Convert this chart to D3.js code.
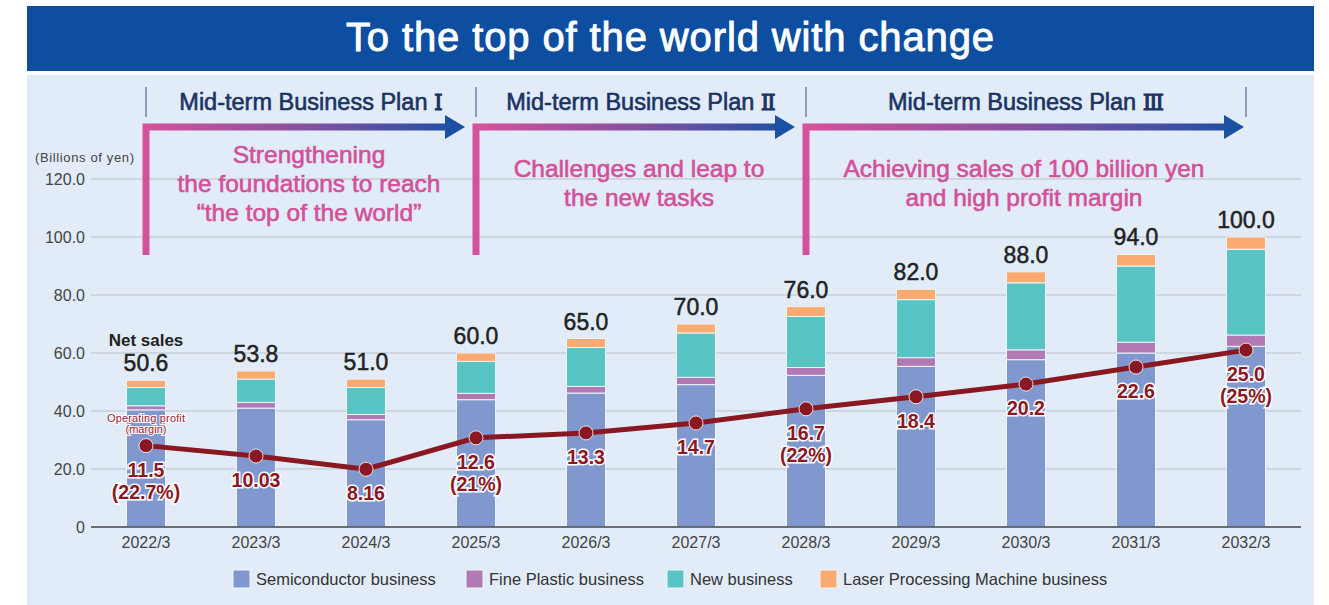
<!DOCTYPE html>
<html>
<head>
    <title>To the top of the world with change</title>
    <meta charset="utf-8">
    <script src="https://cdn.jsdelivr.net/npm/d3@7"></script>
    <style>
        body { margin: 0; background: #fff; }
        text { font-family: "Liberation Sans", Arial, sans-serif; }
    </style>
</head>
<body>
    <div id="chart"></div>

    <script>
        const categories = ["2022/3", "2023/3", "2024/3", "2025/3", "2026/3", "2027/3", "2028/3", "2029/3", "2030/3", "2031/3", "2032/3"];
        const semiconductor = [40.4, 41.0, 37.0, 43.9, 46.2, 49.1, 52.3, 55.4, 57.7, 60.0, 62.3];
        const finePlastic = [1.4, 2.0, 1.8, 2.2, 2.3, 2.5, 2.7, 3.0, 3.4, 3.7, 3.9];
        const newBusiness = [6.3, 8.0, 9.3, 11.0, 13.4, 15.3, 17.6, 20.0, 23.1, 26.3, 29.6];
        const laser = [2.5, 2.8, 2.9, 2.9, 3.1, 3.1, 3.4, 3.6, 3.8, 4.0, 4.2];
        const netSales = [50.6, 53.8, 51.0, 60.0, 65.0, 70.0, 76.0, 82.0, 88.0, 94.0, 100.0];
        const operatingProfit = [11.5, 10.03, 8.16, 12.6, 13.3, 14.7, 16.7, 18.4, 20.2, 22.6, 25.0];
        const profitLabels = ["11.5", "10.03", "8.16", "12.6", "13.3", "14.7", "16.7", "18.4", "20.2", "22.6", "25.0"];
        const margins = ["22.7%", null, null, "21%", null, null, "22%", null, null, null, "25%"];
        const yTicks = [0, 20, 40, 60, 80, 100, 120];

        const seriesNames = ["Semiconductor business", "Fine Plastic business", "New business", "Laser Processing Machine business"];
        const seriesColors = ["#8198cf", "#b27ab4", "#58c4c4", "#fbab6f"];

        const planNames = ["Mid-term Business Plan", "Mid-term Business Plan", "Mid-term Business Plan"];
        const planNumerals = ["\u2160", "\u2161", "\u2162"];
        const planStart = ["2022/3", "2025/3", "2028/3"];
        const planEnd = ["2025/3", "2028/3", "2032/3"];
        const planTexts = [
            ["Strengthening", "the foundations to reach", "\u201cthe top of the world\u201d"],
            ["Challenges and leap to", "the new tasks"],
            ["Achieving sales of 100 billion yen", "and high profit margin"]
        ];

        const W = 1329, H = 605;
        const svg = d3.select("#chart").append("svg")
            .attr("width", W)
            .attr("height", H);

        // title bar + panel
        svg.append("rect").attr("x", 27).attr("y", 6).attr("width", 1287).attr("height", 65).attr("fill", "#0d4ea1");
        svg.append("text")
            .attr("x", 670).attr("y", 51)
            .attr("text-anchor", "middle")
            .attr("fill", "#fff")
            .attr("stroke", "#fff").attr("stroke-width", 0.9)
            .attr("font-size", 40)
            .attr("textLength", 648)
            .text("To the top of the world with change");
        svg.append("rect").attr("x", 27).attr("y", 75).attr("width", 1287).attr("height", 530).attr("fill", "#e1ecf8");

        const x = d3.scaleBand()
            .domain(categories)
            .range([91, 1301])
            .paddingInner(0.645)
            .paddingOuter(0.3225);

        const y = d3.scaleLinear().domain([0, 120]).range([527, 179]);
        // operating profit drawn on its own scale
        const y2 = d3.scaleLinear().domain([0, 120 / 2.44]).range([527, 179]);

        const cx = c => x(c) + x.bandwidth() / 2;

        // grid
        svg.append("g")
            .selectAll("line")
            .data(yTicks.filter(d => d > 0))
            .join("line")
            .attr("x1", 91).attr("x2", 1301)
            .attr("y1", d => y(d)).attr("y2", d => y(d))
            .attr("stroke", "#bcc0c6")
            .attr("stroke-width", 1.2);

        const yAxis = svg.append("g")
            .attr("transform", "translate(91,0)")
            .call(d3.axisLeft(y).tickValues(yTicks).tickSize(0).tickPadding(6)
                .tickFormat(d => d === 0 ? "0" : d.toFixed(1)));
        yAxis.select(".domain").remove();
        yAxis.selectAll("text").attr("font-size", 16).attr("fill", "#444").attr("font-family", "Liberation Sans, Arial, sans-serif");

        svg.append("text")
            .attr("x", 35).attr("y", 162)
            .attr("font-size", 13).attr("fill", "#444")
            .attr("textLength", 99)
            .text("(Billions of yen)");

        // plan headers and arrows
        const defs = svg.append("defs");
        const planG = svg.append("g");
        planNames.forEach((name, i) => {
            const x0 = cx(planStart[i]);
            const x1 = cx(planEnd[i]);
            const tip = i < 2 ? x1 - 11 : x1 - 2;
            const gid = "grad" + i;
            const grad = defs.append("linearGradient")
                .attr("id", gid)
                .attr("gradientUnits", "userSpaceOnUse")
                .attr("x1", x0).attr("x2", tip).attr("y1", 0).attr("y2", 0);
            grad.append("stop").attr("offset", "0%").attr("stop-color", "#d4529b");
            grad.append("stop").attr("offset", "55%").attr("stop-color", "#7b52a0");
            grad.append("stop").attr("offset", "100%").attr("stop-color", "#1b50a2");

            const head = planG.append("text")
                .attr("x", (x0 + x1) / 2).attr("y", 110)
                .attr("text-anchor", "middle")
                .attr("font-size", 23.5)
                .attr("fill", "#1b3364")
                .attr("stroke", "#1b3364").attr("stroke-width", 0.6);
            head.append("tspan").text(name + " ");
            head.append("tspan")
                .attr("font-family", "DejaVu Serif, Liberation Serif, serif")
                .attr("font-size", 22)
                .attr("stroke-width", 1)
                .text(planNumerals[i]);

            planG.append("path")
                .attr("d", `M${x0},255V127H${tip - 18}`)
                .attr("fill", "none")
                .attr("stroke", `url(#${gid})`)
                .attr("stroke-width", 7);
            planG.append("path")
                .attr("d", `M${tip - 20},115L${tip},127L${tip - 20},139Z`)
                .attr("fill", "#1b50a2");

            planTexts[i].forEach((t, j) => {
                planG.append("text")
                    .attr("x", (x0 + x1) / 2 - 2)
                    .attr("y", (i === 0 ? 163 : 177) + j * 29)
                    .attr("text-anchor", "middle")
                    .attr("font-size", 24.5)
                    .attr("fill", "#d3509a")
                    .attr("stroke", "#d3509a").attr("stroke-width", 0.6)
                    .text(t);
            });
        });
        // separators
        const sepX = planStart.concat([planEnd[2]]).map(cx);
        planG.selectAll("line.sep")
            .data(sepX)
            .join("line")
            .attr("class", "sep")
            .attr("x1", d => d).attr("x2", d => d)
            .attr("y1", 87).attr("y2", 117)
            .attr("stroke", "#5b7299")
            .attr("stroke-width", 1.3);

        // stacked bars
        const rows = categories.map((c, i) => ({
            cat: c, s0: semiconductor[i], s1: finePlastic[i], s2: newBusiness[i], s3: laser[i]
        }));
        const stack = d3.stack().keys(["s0", "s1", "s2", "s3"])(rows);

        svg.append("g")
            .selectAll("g")
            .data(stack)
            .join("g")
            .attr("fill", (d, i) => seriesColors[i])
            .selectAll("rect")
            .data(d => d)
            .join("rect")
            .attr("x", d => x(d.data.cat))
            .attr("width", x.bandwidth())
            .attr("y", d => y(d[1]))
            .attr("height", d => y(d[0]) - y(d[1]))
            .attr("stroke", "#eef4fb")
            .attr("stroke-width", 1);

        // x axis
        const xAxis = svg.append("g")
            .attr("transform", "translate(0,527)")
            .call(d3.axisBottom(x).tickSize(0).tickPadding(10));
        xAxis.select(".domain").attr("stroke", "#444").attr("stroke-width", 1.5).attr("d", "M91,0H1301");
        xAxis.selectAll("text").attr("font-size", 16).attr("fill", "#444").attr("font-family", "Liberation Sans, Arial, sans-serif");

        // totals
        svg.append("g")
            .selectAll("text")
            .data(categories)
            .join("text")
            .attr("x", d => cx(d))
            .attr("y", (d, i) => y(netSales[i]) - 9)
            .attr("text-anchor", "middle")
            .attr("font-size", 23)
            .attr("fill", "#222")
            .attr("stroke", "#222").attr("stroke-width", 0.5)
            .text((d, i) => netSales[i].toFixed(1));

        svg.append("text")
            .attr("x", cx(categories[0])).attr("y", 346)
            .attr("text-anchor", "middle")
            .attr("font-size", 17).attr("font-weight", "bold")
            .attr("fill", "#222")
            .text("Net sales");

        // operating profit line
        const line = d3.line()
            .x((d, i) => cx(categories[i]))
            .y(d => y2(d));

        svg.append("path")
            .attr("d", line(operatingProfit))
            .attr("fill", "none")
            .attr("stroke", "#8a1822")
            .attr("stroke-width", 5);

        svg.append("g")
            .selectAll("circle")
            .data(operatingProfit)
            .join("circle")
            .attr("cx", (d, i) => cx(categories[i]))
            .attr("cy", d => y2(d))
            .attr("r", 7)
            .attr("fill", "#8a1822")
            .attr("stroke", "#fff")
            .attr("stroke-width", 0.8);

        const labels = svg.append("g")
            .attr("font-size", 19.5)
            .attr("font-weight", "bold")
            .attr("fill", "#8a1822")
            .attr("stroke", "#fff")
            .attr("stroke-width", 3)
            .attr("paint-order", "stroke")
            .attr("text-anchor", "middle");

        labels.selectAll("text.v")
            .data(operatingProfit)
            .join("text")
            .attr("class", "v")
            .attr("x", (d, i) => cx(categories[i]))
            .attr("y", d => y2(d) + 31)
            .text((d, i) => profitLabels[i]);

        labels.selectAll("text.m")
            .data(operatingProfit)
            .join("text")
            .attr("class", "m")
            .attr("x", (d, i) => cx(categories[i]))
            .attr("y", d => y2(d) + 53)
            .text((d, i) => margins[i] ? `(${margins[i]})` : "");

        const opLabel = svg.append("g")
            .attr("font-size", 11)
            .attr("fill", "#9a2030")
            .attr("text-anchor", "middle")
            .attr("stroke", "#fff").attr("stroke-width", 2).attr("paint-order", "stroke");
        opLabel.append("text").attr("x", cx(categories[0])).attr("y", 422).attr("textLength", 78).text("Operating profit");
        opLabel.append("text").attr("x", cx(categories[0])).attr("y", 433).text("(margin)");

        // legend
        const legendX = [233, 466, 667, 820];
        const legend = svg.append("g")
            .selectAll("g")
            .data(seriesNames)
            .join("g")
            .attr("transform", (d, i) => `translate(${legendX[i]},570)`);
        legend.append("rect")
            .attr("width", 17).attr("height", 18)
            .attr("fill", (d, i) => seriesColors[i])
            .attr("stroke", "#f2f6fb").attr("stroke-width", 1);
        legend.append("text")
            .attr("x", 23).attr("y", 15)
            .attr("font-size", 16.5)
            .attr("fill", "#333")
            .text(d => d);
    </script>
</body>
</html>
